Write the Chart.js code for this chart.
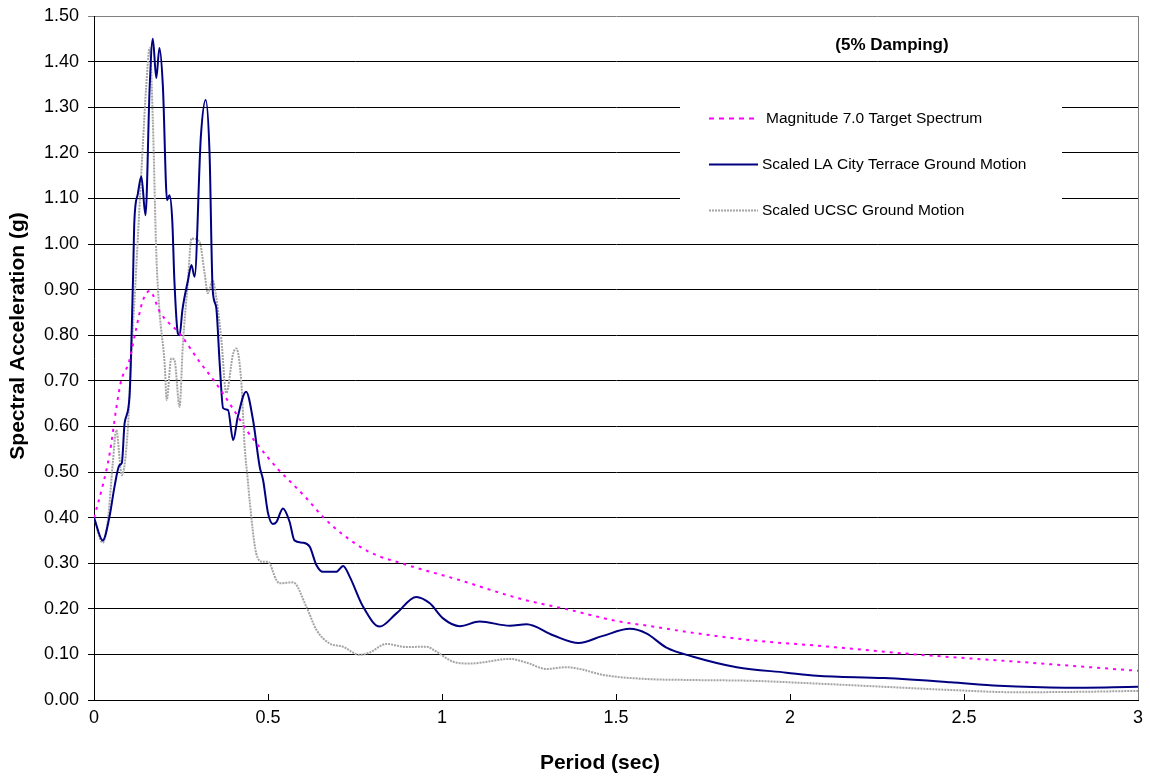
<!DOCTYPE html>
<html>
<head>
<meta charset="utf-8">
<script src="https://cdn.jsdelivr.net/npm/chart.js@4.4.1/dist/chart.umd.min.js"></script>
<style>
  html, body { margin: 0; padding: 0; background: #fff; }
  #wrap { width: 1150px; height: 776px; position: relative; }
</style>
</head>
<body>
<div id="wrap"><canvas id="chart-spectra"></canvas></div>
<script>
// periods (sec) and spectral acceleration (g)
const targetPeriod = [0, 0.025, 0.045, 0.064, 0.078, 0.10, 0.12, 0.14, 0.16, 0.19, 0.25, 0.30, 0.35, 0.40, 0.44, 0.47, 0.53, 0.56, 0.61, 0.66, 0.72, 0.79, 0.90, 1.05, 1.22, 1.37, 1.51, 1.60, 1.68, 1.89, 2.08, 2.36, 2.65, 3.00];
const targetSA = [0.40, 0.47, 0.54, 0.64, 0.70, 0.74, 0.81, 0.875, 0.897, 0.85, 0.80, 0.745, 0.695, 0.638, 0.59, 0.56, 0.505, 0.482, 0.443, 0.40, 0.36, 0.325, 0.296, 0.263, 0.223, 0.197, 0.172, 0.162, 0.152, 0.131, 0.119, 0.100, 0.084, 0.064];

const laPeriod = [0, 0.025, 0.044, 0.059, 0.073, 0.08, 0.088, 0.102, 0.112, 0.116, 0.126, 0.136, 0.148, 0.16, 0.169, 0.179, 0.188, 0.198, 0.21, 0.217, 0.225, 0.231, 0.241, 0.246, 0.254, 0.27, 0.28, 0.289, 0.307, 0.321, 0.332, 0.341, 0.351, 0.361, 0.371, 0.385, 0.40, 0.413, 0.437, 0.457, 0.476, 0.486, 0.50, 0.514, 0.524, 0.543, 0.562, 0.576, 0.60, 0.62, 0.639, 0.658, 0.696, 0.716, 0.735, 0.773, 0.821, 0.869, 0.926, 0.965, 1.003, 1.051, 1.108, 1.195, 1.243, 1.319, 1.393, 1.46, 1.54, 1.587, 1.645, 1.722, 1.847, 1.99, 2.077, 2.27, 2.46, 2.60, 2.79, 3.00];
const laSA = [0.40, 0.35, 0.40, 0.468, 0.515, 0.52, 0.607, 0.665, 0.92, 1.05, 1.11, 1.148, 1.063, 1.345, 1.45, 1.364, 1.43, 1.345, 1.096, 1.107, 1.05, 0.92, 0.804, 0.80, 0.855, 0.92, 0.954, 0.928, 1.235, 1.316, 1.20, 0.90, 0.862, 0.74, 0.64, 0.636, 0.57, 0.62, 0.676, 0.614, 0.512, 0.482, 0.41, 0.386, 0.39, 0.42, 0.391, 0.35, 0.345, 0.336, 0.296, 0.281, 0.281, 0.294, 0.27, 0.205, 0.161, 0.19, 0.226, 0.212, 0.179, 0.162, 0.172, 0.163, 0.166, 0.142, 0.125, 0.14, 0.156, 0.146, 0.115, 0.095, 0.072, 0.060, 0.053, 0.048, 0.039, 0.031, 0.027, 0.029];

const ucscPeriod = [0, 0.025, 0.04, 0.054, 0.064, 0.08, 0.097, 0.107, 0.118, 0.14, 0.15, 0.16, 0.169, 0.179, 0.188, 0.203, 0.209, 0.222, 0.231, 0.246, 0.255, 0.27, 0.28, 0.303, 0.318, 0.327, 0.341, 0.351, 0.366, 0.38, 0.40, 0.409, 0.423, 0.433, 0.442, 0.447, 0.466, 0.485, 0.50, 0.524, 0.533, 0.572, 0.61, 0.639, 0.677, 0.715, 0.763, 0.792, 0.84, 0.898, 0.955, 0.984, 1.032, 1.08, 1.195, 1.243, 1.30, 1.358, 1.396, 1.463, 1.588, 1.703, 1.894, 2.077, 2.27, 2.46, 2.65, 2.84, 3.00];
const ucscSA = [0.40, 0.345, 0.395, 0.519, 0.592, 0.493, 0.592, 0.753, 0.90, 1.213, 1.345, 1.43, 1.272, 0.98, 0.855, 0.738, 0.658, 0.749, 0.746, 0.643, 0.775, 0.92, 1.012, 1.005, 0.935, 0.892, 0.92, 0.884, 0.79, 0.673, 0.76, 0.771, 0.70, 0.555, 0.482, 0.439, 0.322, 0.303, 0.303, 0.263, 0.256, 0.258, 0.205, 0.154, 0.124, 0.117, 0.099, 0.104, 0.123, 0.116, 0.117, 0.106, 0.084, 0.080, 0.090, 0.082, 0.068, 0.072, 0.068, 0.055, 0.046, 0.044, 0.042, 0.036, 0.029, 0.022, 0.017, 0.018, 0.020];

const seriesLabels = [
  "Magnitude 7.0 Target Spectrum",
  "Scaled LA City Terrace Ground Motion",
  "Scaled UCSC Ground Motion",
];
const noteText = "(5% Damping)";
const xTitle = "Period (sec)";
const yTitle = "Spectral Acceleration (g)";

const FONT = '"Liberation Sans", Arial, Helvetica, sans-serif';

function toPoints(xs, ys) {
  return xs.map((x, i) => ({ x, y: ys[i] }));
}

// inside tick marks on the period axis + right frame line
const frame = {
  id: "frame",
  afterDraw(chart) {
    const { ctx, scales: { x }, chartArea: a } = chart;
    ctx.save();
    ctx.strokeStyle = "#000";
    ctx.lineWidth = 1;
    for (const t of x.ticks) {
      const px = Math.round(x.getPixelForValue(t.value)) + 0.5;
      ctx.beginPath();
      ctx.moveTo(px, a.bottom);
      ctx.lineTo(px, a.bottom - 6);
      ctx.stroke();
    }
    ctx.strokeStyle = "#808080";
    const r = Math.round(a.right) + 0.5;
    ctx.beginPath();
    ctx.moveTo(r, a.top);
    ctx.lineTo(r, a.bottom);
    ctx.stroke();
    ctx.restore();
  },
};

// axis titles, legend box and damping note, placed like the original
const annotations = {
  id: "annotations",
  afterDraw(chart) {
    const { ctx, chartArea: a } = chart;
    ctx.save();
    ctx.fillStyle = "#000";
    ctx.textAlign = "center";
    ctx.textBaseline = "middle";
    ctx.font = "bold 21px " + FONT;
    ctx.fillText(xTitle, a.left + 506, chart.height - 13);
    ctx.translate(18, a.top + 320);
    ctx.rotate(-Math.PI / 2);
    ctx.fillText(yTitle, 0, 0);
    ctx.restore();

    const boxL = a.left + 586, boxT = a.top + 72, boxW = 382, boxH = 138;
    ctx.save();
    ctx.fillStyle = "#fff";
    ctx.fillRect(boxL, boxT, boxW, boxH);

    ctx.fillStyle = "#000";
    ctx.font = "bold 17px " + FONT;
    ctx.textAlign = "center";
    ctx.textBaseline = "middle";
    ctx.fillText(noteText, a.left + 798, a.top + 29);

    ctx.font = "15.5px " + FONT;
    ctx.textAlign = "left";
    chart.data.datasets.forEach((ds, i) => {
      const y = boxT + 30.5 + i * 46;
      ctx.strokeStyle = ds.borderColor;
      ctx.lineWidth = ds.borderWidth;
      ctx.setLineDash(i === 0 ? [5, 5] : ds.borderDash || []);
      ctx.beginPath();
      ctx.moveTo(boxL + 29, y);
      ctx.lineTo(boxL + 78, y);
      ctx.stroke();
      ctx.setLineDash([]);
      ctx.fillStyle = "#000";
      ctx.fillText(ds.label, boxL + (i === 0 ? 86 : 82), y);
    });
    ctx.restore();
  },
};

document.addEventListener("DOMContentLoaded", () => {
  const Chart = globalThis.Chart;
  Chart.defaults.font.family = FONT;
  Chart.defaults.font.size = 18;
  Chart.defaults.color = "#000";

  const datasets = [
    {
      label: seriesLabels[0],
      data: toPoints(targetPeriod, targetSA),
      borderColor: "#ff00ff",
      borderWidth: 2,
      borderDash: [3, 5],
    },
    {
      label: seriesLabels[1],
      data: toPoints(laPeriod, laSA),
      borderColor: "#000080",
      borderWidth: 2,
    },
    {
      label: seriesLabels[2],
      data: toPoints(ucscPeriod, ucscSA),
      borderColor: "#a4a4a4",
      borderWidth: 2,
      borderDash: [2, 1],
    },
  ].map((d) => ({
    ...d,
    pointRadius: 0,
    fill: false,
    cubicInterpolationMode: "monotone",
  }));

  new Chart(document.getElementById("chart-spectra"), {
    type: "line",
    data: { datasets },
    options: {
      responsive: true,
      maintainAspectRatio: false,
      animation: false,
      layout: { padding: { top: 16, right: 12, left: 0, bottom: 0 } },
      plugins: {
        legend: { display: false },
        tooltip: { enabled: false },
      },
      scales: {
        x: {
          type: "linear",
          min: 0,
          max: 3,
          afterFit: (s) => {
            s.height = 76;
            s.paddingLeft = 0;
            s.paddingRight = 0;
          },
          ticks: {
            stepSize: 0.5,
            padding: 7,
            color: "#000",
            callback: (v) => String(v),
          },
          grid: { display: false, drawTicks: false },
          border: { display: true, color: "#000", width: 1 },
        },
        y: {
          min: 0,
          max: 1.5,
          afterFit: (s) => {
            s.width = 94;
            s.paddingTop = 0;
            s.paddingBottom = 0;
          },
          ticks: {
            stepSize: 0.1,
            padding: 9,
            color: "#000",
            callback: (v) => Number(v).toFixed(2),
          },
          grid: {
            color: (c) => (c.tick && c.tick.value >= 1.5 ? "#808080" : "#000"),
            lineWidth: 1,
            drawTicks: true,
            tickLength: 6,
          },
          border: { display: true, color: "#000", width: 1 },
        },
      },
    },
    plugins: [frame, annotations],
  });
});
</script>
</body>
</html>
